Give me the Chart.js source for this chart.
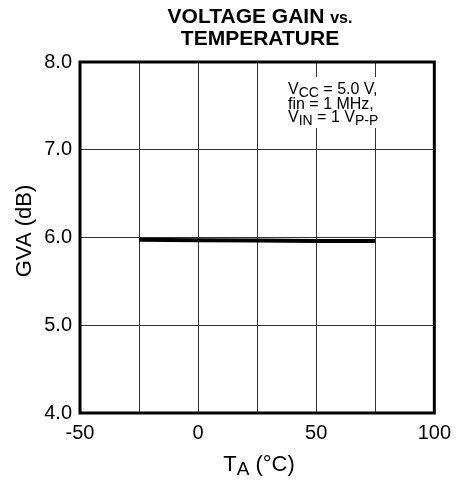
<!DOCTYPE html>
<html lang="en">
<head>
    <meta charset="UTF-8">
    <title>Voltage Gain vs. Temperature</title>
    <script src="https://cdn.jsdelivr.net/npm/chart.js"></script>
    <style>
        body { margin: 0; padding: 0; background: #fff; }
        canvas { display: block; }
    </style>
</head>
<body>
    <canvas id="gainChart" width="459" height="483"></canvas>

    <script>
        // data
        var tempC = [-25, 0, 25, 50, 75];
        var gainDb = [5.975, 5.97, 5.965, 5.96, 5.96];
        var xLabelTicks = [-50, 0, 50, 100];
        var yRange = [4, 8];
        var xRange = [-50, 100];

        var FONT = "'Liberation Sans', Arial, Helvetica, sans-serif";

        // title, notes, axis titles with subscripts and the thick frame
        var decorPlugin = {
            id: "decor",
            afterDraw: function(chart) {
                var ctx = chart.ctx;
                var a = chart.chartArea;
                ctx.save();
                ctx.fillStyle = "#000";
                ctx.textBaseline = "alphabetic";

                // title
                ctx.font = "bold 21px " + FONT;
                var t1 = "VOLTAGE GAIN ";
                var w1 = ctx.measureText(t1).width;
                ctx.font = "bold 16px " + FONT;
                var w2 = ctx.measureText("vs.").width;
                var cx = 260;
                var x0 = cx - (w1 + w2) / 2;
                ctx.font = "bold 21px " + FONT;
                ctx.textAlign = "left";
                ctx.fillText(t1, x0, 23);
                ctx.font = "bold 16px " + FONT;
                ctx.fillText("vs.", x0 + w1, 23);
                ctx.font = "bold 21px " + FONT;
                ctx.textAlign = "center";
                ctx.fillText("TEMPERATURE", cx, 45);

                function runs(parts, x, y) {
                    parts.forEach(function(p) {
                        ctx.font = p[2] + "px " + FONT;
                        ctx.fillText(p[0], x, y + p[1]);
                        x += ctx.measureText(p[0]).width;
                    });
                }

                // conditions box (grid hidden behind it)
                ctx.fillStyle = "#fff";
                ctx.fillRect(283, 77, 150, 51);
                ctx.fillStyle = "#000";
                ctx.textAlign = "left";
                runs([["V", 0, 16], ["CC", 3, 14], [" = 5.0 V,", 0, 16]], 288, 94);
                runs([["fin = 1 MHz,", 0, 16]], 288, 109);
                runs([["V", 0, 16], ["IN", 3, 14], [" = 1 V", 0, 16], ["P-P", 3, 14]], 288, 122);

                // x axis title
                var xt = [["T", 0, 22], ["A", 4, 19], [" (\u00b0C)", 0, 22]];
                var tw = 0;
                xt.forEach(function(p) { ctx.font = p[2] + "px " + FONT; tw += ctx.measureText(p[0]).width; });
                runs(xt, 259 - tw / 2, 471);

                // y axis title
                ctx.translate(31, 231);
                ctx.rotate(-Math.PI / 2);
                ctx.font = "22px " + FONT;
                ctx.textAlign = "center";
                ctx.fillText("GVA (dB)", 0, 0);
                ctx.restore();

                // frame
                ctx.save();
                ctx.strokeStyle = "#000";
                ctx.lineWidth = 3;
                ctx.strokeRect(a.left, a.top, a.right - a.left, a.bottom - a.top);
                ctx.restore();
            }
        };

        new Chart(document.getElementById("gainChart").getContext("2d"), {
            type: "line",
            data: {
                datasets: [{
                    data: tempC.map(function(t, i) { return { x: t, y: gainDb[i] }; }),
                    borderColor: "#000",
                    borderWidth: 4,
                    pointRadius: 0,
                    tension: 0,
                    fill: false
                }]
            },
            options: {
                responsive: false,
                animation: false,
                layout: { padding: { top: 62, right: 24, left: 0, bottom: 0 } },
                plugins: { legend: { display: false }, tooltip: { enabled: false }, title: { display: false } },
                scales: {
                    x: {
                        type: "linear",
                        min: xRange[0],
                        max: xRange[1],
                        afterBuildTicks: function(s) {
                            var t = [];
                            for (var v = xRange[0]; v <= xRange[1]; v += 25) t.push({ value: v });
                            s.ticks = t;
                        },
                        afterFit: function(s) { s.height = 70; },
                        grid: { color: "#333", lineWidth: 1, drawTicks: false },
                        border: { display: false },
                        ticks: {
                            autoSkip: false,
                            maxRotation: 0,
                            padding: 8,
                            color: "#000",
                            font: { family: FONT, size: 20 },
                            callback: function(v) { return xLabelTicks.indexOf(v) >= 0 ? String(v) : ""; }
                        }
                    },
                    y: {
                        min: yRange[0],
                        max: yRange[1],
                        afterFit: function(s) { s.width = 80; },
                        grid: { color: "#333", lineWidth: 1, drawTicks: false },
                        border: { display: false },
                        ticks: {
                            stepSize: 1,
                            padding: 8,
                            color: "#000",
                            font: { family: FONT, size: 20 },
                            callback: function(v) { return v.toFixed(1); }
                        }
                    }
                }
            },
            plugins: [decorPlugin]
        });
    </script>
</body>
</html>
